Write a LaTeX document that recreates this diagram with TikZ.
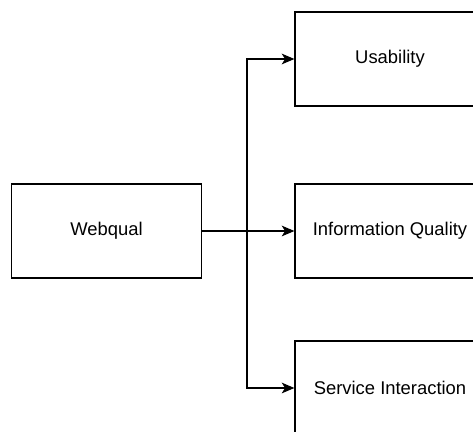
\documentclass[tikz,border=0pt]{standalone}
\usepackage{fontspec}
\setmainfont{Liberation Sans}
\usetikzlibrary{arrows.meta}

\begin{document}
\begin{tikzpicture}[x=0.75pt,y=0.75pt,yscale=-1,xscale=1,
  dimbox/.style={draw, line width=0.9pt, minimum width=142.5pt, minimum height=70.5pt, inner sep=0pt, font=\fontsize{13.8}{16}\selectfont},
  link/.style={line width=0.9pt, -{Stealth[length=9.5pt,width=8pt,inset=2.5pt]}}]
%set diagram frame 473 x 431
\useasboundingbox (0,0) rectangle (473,431);
\clip (0,0) rectangle (473,431);

% Boxes
\node [dimbox] (webqual) at (106.5,231) {Webqual};
\node [dimbox] (usab) at (390,59) {Usability};
\node [dimbox] (infoq) at (390,231) {Information Quality};
\node [dimbox] (servi) at (390,388) {Service Interaction};

% Branch point
\coordinate (split) at (247,231);

% Connectors
\draw [link] (webqual.east) -- (infoq.west);
\draw [link] (split) |- (usab.west);
\draw [link] (split) |- (servi.west);

\end{tikzpicture}
\end{document}
